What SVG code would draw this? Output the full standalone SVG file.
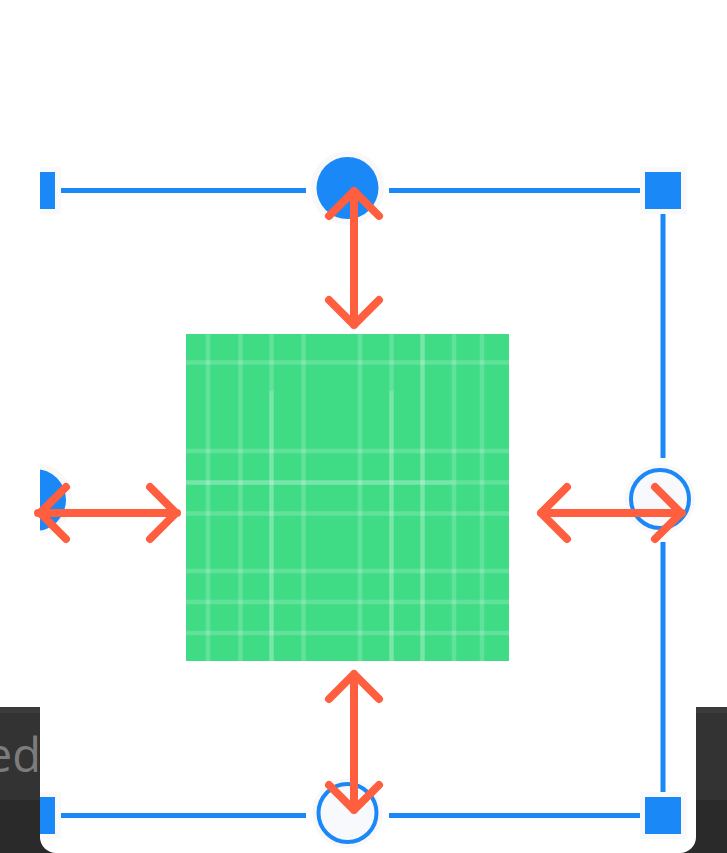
<svg xmlns="http://www.w3.org/2000/svg" width="727" height="853" viewBox="0 0 727 853">
<defs>
<style>
.ln{stroke:#1b88f7;stroke-width:5;fill:none}
.hf{fill:#1b88f7}
.halo{fill:#f9f9f9}
.ring{fill:#f8f9fd;stroke:#1b88f7;stroke-width:4}
.arr{stroke:#ff5e3f;stroke-width:8;fill:none;stroke-linecap:round;stroke-linejoin:round}
.gl{stroke:#ffffff;stroke-opacity:0.18;stroke-width:4.5}
.gb{stroke:#ffffff;stroke-opacity:0.3;stroke-width:4.5}
</style>
<clipPath id="panelClip"><rect x="40" y="0" width="656" height="853"/></clipPath>
</defs>
<rect width="727" height="853" fill="#ffffff"/>
<g id="darkbar">
<rect x="0" y="707" width="727" height="146" fill="#333333"/>
<rect x="0" y="707" width="727" height="6" fill="#3b3b3b"/>
<rect x="0" y="800" width="727" height="53" fill="#2a2a2a"/>
<text x="41" y="772" text-anchor="end" font-family="'Open Sans','Noto Sans',sans-serif" font-size="47" fill="#7c7c7c">ed</text>
</g>
<path id="panel" d="M40 0 H696 V837 A16 16 0 0 1 680 853 H56 A16 16 0 0 1 40 837 Z" fill="#ffffff"/>
<g id="connectors">
<line class="ln" x1="61" y1="190.5" x2="306" y2="190.5"/>
<line class="ln" x1="389" y1="190.5" x2="640" y2="190.5"/>
<line class="ln" x1="61" y1="815.5" x2="306" y2="815.5"/>
<line class="ln" x1="389" y1="815.5" x2="640" y2="815.5"/>
<line class="ln" x1="663" y1="214" x2="663" y2="458"/>
<line class="ln" x1="663" y1="542" x2="663" y2="792"/>
</g>
<g id="target">
<rect x="186" y="334" width="323" height="327" fill="#3fdc85"/>
<g>
<line class="gl" x1="208" y1="334" x2="208" y2="661" stroke-opacity="0.03"/>
<line class="gl" x1="240.5" y1="334" x2="240.5" y2="661"/>
<line class="gl" x1="271.5" y1="334" x2="271.5" y2="391"/>
<line class="gb" x1="271.5" y1="391" x2="271.5" y2="661"/>
<line class="gl" x1="303.5" y1="334" x2="303.5" y2="661"/>
<line class="gl" x1="360" y1="334" x2="360" y2="661" stroke-opacity="0.07"/>
<line class="gl" x1="391.5" y1="334" x2="391.5" y2="391"/>
<line class="gb" x1="391.5" y1="391" x2="391.5" y2="661"/>
<line class="gb" x1="422.5" y1="334" x2="422.5" y2="661"/>
<line class="gl" x1="454" y1="334" x2="454" y2="661" stroke-opacity="0.07"/>
<line class="gl" x1="482" y1="334" x2="482" y2="661" stroke-opacity="0.03"/>
<line class="gl" x1="186" y1="362.5" x2="509" y2="362.5"/>
<line class="gl" x1="186" y1="451" x2="509" y2="451"/>
<line class="gb" x1="186" y1="482.5" x2="452" y2="482.5"/>
<line class="gl" x1="452" y1="482.5" x2="509" y2="482.5"/>
<line class="gl" x1="186" y1="513.5" x2="452" y2="513.5"/>
<line class="gl" x1="452" y1="513.5" x2="509" y2="513.5" stroke-opacity="0.1"/>
<line class="gl" x1="186" y1="571" x2="509" y2="571" stroke-opacity="0.08"/>
<line class="gl" x1="186" y1="602" x2="509" y2="602"/>
<line class="gl" x1="186" y1="633" x2="509" y2="633"/>
</g>
</g>
<g id="handle-tl" clip-path="url(#panelClip)">
<rect class="halo" x="35" y="167" width="26" height="47"/>
<rect class="hf" x="35" y="172" width="20" height="37"/>
</g>
<g id="handle-tr">
<rect class="halo" x="640" y="167" width="47" height="47"/>
<rect class="hf" x="645" y="172" width="36" height="37"/>
</g>
<g id="handle-bl" clip-path="url(#panelClip)">
<rect class="halo" x="35" y="792" width="26" height="47"/>
<rect class="hf" x="35" y="797" width="20" height="37"/>
</g>
<g id="handle-br">
<rect class="halo" x="640" y="792" width="47" height="47"/>
<rect class="hf" x="645" y="797" width="36" height="37"/>
</g>
<g id="handle-top">
<circle cx="347.5" cy="188" r="37" fill="#f8f8f8"/>
<circle class="hf" cx="347.5" cy="188" r="31"/>
</g>
<g id="handle-right">
<circle cx="660" cy="499" r="35" fill="#f8f8f8"/>
<circle class="ring" cx="660" cy="499" r="29"/>
</g>
<g id="handle-bottom">
<circle cx="347.5" cy="813" r="35" fill="#f8f8f8"/>
<circle class="ring" cx="347.5" cy="813" r="29"/>
</g>
<g id="handle-left" clip-path="url(#panelClip)">
<circle cx="35" cy="500" r="37" fill="#f8f8f8"/>
<circle class="hf" cx="35" cy="500" r="31"/>
</g>
<g id="arrows">
<path class="arr" d="M354 191 V325 M329 216 L354 191 L379 216 M329 300 L354 325 L379 300"/>
<path class="arr" d="M354 674 V810 M329 699 L354 674 L379 699 M329 785 L354 810 L379 785"/>
<path class="arr" d="M38 513 H177 M66 487 L40 513 L66 539 M150 487 L176 513 L150 539"/>
<path class="arr" d="M541 513 H682 M567 487 L541 513 L567 539 M655 487 L681 513 L655 539"/>
</g>
</svg>
